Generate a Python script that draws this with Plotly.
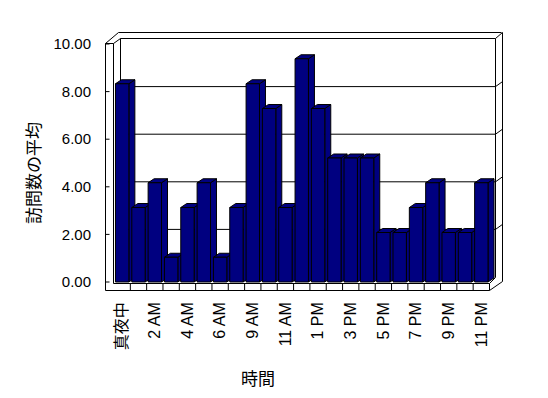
import plotly.graph_objects as go

# ---------------- data ----------------
categories = ["真夜中", "1 AM", "2 AM", "3 AM", "4 AM", "5 AM", "6 AM", "8 AM",
              "9 AM", "10 AM", "11 AM", "12 PM", "1 PM", "2 PM", "3 PM", "4 PM",
              "5 PM", "6 PM", "7 PM", "8 PM", "9 PM", "10 PM", "11 PM"]
values = [8.33, 3.13, 4.17, 1.04, 3.13, 4.17, 1.04, 3.13, 8.33, 7.29, 3.13, 9.38,
          7.29, 5.21, 5.21, 5.21, 2.08, 2.08, 3.13, 4.17, 2.08, 2.08, 4.17]
y_ticks = [0, 2, 4, 6, 8, 10]
y_title = "訪問数の平均"
x_title = "時間"

# ---------------- geometry (screen pixels) ----------------
W, H = 548, 398
OFF = 8                                   # page body margin
PL, PR, PT, PB = 100, 508, 28, 298        # plot area on screen
ML, MT = PL - OFF, PT - OFF
MR, MB = W - (PR - OFF), H - (PB - OFF)
N = len(categories)
FX0 = 114.0                  # left edge of first category (front)
FX1 = 489.5                  # right edge of last category
PXX = (FX1 - FX0) / N
FY0 = 282.0                  # value 0 (front)
PXY = 23.8                   # pixels per unit
BAR_W = 0.82
DDX, DDY = 6, 4              # depth offset of bars (px)
NAVY = "#000080"
FONT = "Liberation Sans, Arial, Noto Sans CJK JP, sans-serif"
CJK = "Noto Sans CJK JP, sans-serif"

def X(px):
    return -0.5 + (px - FX0) / PXX

def Y(py):
    return (FY0 - py) / PXY

def fy(v):
    return FY0 - PXY * v

x_range = [X(PL), X(PR)]
y_range = [Y(PB), Y(PT)]

shapes = []

def seg(p0, p1):
    shapes.append(dict(type="line", xref="x", yref="y",
                       x0=X(p0[0]), y0=Y(p0[1]), x1=X(p1[0]), y1=Y(p1[1]),
                       line=dict(color="black", width=1), layer="between"))

# back wall grid lines (offset into depth)
for v in y_ticks[1:-1]:
    yy = fy(v) - 5
    seg((120.5, yy), (495.5, yy))
    seg((495.5, yy), (502.5, yy - 5))

# frame: left wall
seg((105.5, 43.5), (105.5, 290.5))
seg((113.5, 43.5), (113.5, 283.5))
seg((105.5, 43.5), (113.5, 43.5))
seg((105.5, 43.5), (118.5, 32.5))
seg((113.5, 43.5), (120.5, 38.5))
# back wall
seg((118.5, 32.5), (501.5, 32.5))
seg((120.5, 38.5), (495.5, 38.5))
seg((120.5, 38.5), (120.5, 277.0))
seg((495.5, 38.5), (495.5, 277.5))
seg((495.5, 38.5), (502.5, 32.5))
seg((502.5, 32.5), (502.5, 281.5))
# floor
seg((105.5, 290.5), (489.5, 290.5))
seg((113.5, 283.5), (489.5, 283.5))
seg((489.5, 283.5), (489.5, 290.5))
seg((489.5, 290.5), (502.5, 281.5))
seg((489.5, 283.5), (495.5, 277.5))
for k in range(1, N):
    xx = FX0 + PXX * k
    seg((xx, 283.5), (xx, 290.5))
# left axis tick marks
for v in y_ticks:
    seg((105.5, fy(v)), (109.5, fy(v)))

# bar side and top faces (front faces are the bar trace)
dx = DDX / PXX
dy = DDY / PXY
for i, v in enumerate(values):
    xl = i - BAR_W / 2
    xr = i + BAR_W / 2
    shapes.append(dict(type="path", xref="x", yref="y", layer="between",
                       path=f"M {xr},0 L {xr+dx},{dy} L {xr+dx},{v+dy} L {xr},{v} Z",
                       fillcolor=NAVY, line=dict(color="black", width=1)))
    shapes.append(dict(type="path", xref="x", yref="y", layer="between",
                       path=f"M {xl},{v} L {xl+dx},{v+dy} L {xr+dx},{v+dy} L {xr},{v} Z",
                       fillcolor=NAVY, line=dict(color="black", width=1)))

fig = go.Figure()
fig.add_trace(go.Bar(
    x=list(range(N)), y=values, width=BAR_W,
    marker=dict(color=NAVY, line=dict(color="black", width=1)),
    hovertext=categories, hoverinfo="text+y",
))

def paper_x(px):
    return (px - PL) / (PR - PL)

def paper_y(py):
    return (PB - py) / (PB - PT)

fig.update_layout(
    width=W, height=H,
    margin=dict(l=ML, r=MR, t=MT, b=MB, pad=0),
    paper_bgcolor="white", plot_bgcolor="white",
    showlegend=False,
    shapes=shapes,
    font=dict(family=FONT, color="black", size=15),
    xaxis=dict(range=x_range, showgrid=False, zeroline=False, showline=False,
               tickmode="array", tickvals=list(range(0, N, 2)),
               ticktext=categories[0::2], tickangle=-90, ticks="",
               tickfont=dict(family=FONT, size=16), fixedrange=True),
    yaxis=dict(range=y_range, showgrid=False, zeroline=False, showline=False,
               tickmode="array", tickvals=y_ticks, tickformat=".2f", ticks="",
               tickfont=dict(family=FONT, size=15), ticklabelstandoff=8,
               fixedrange=True),
    annotations=[
        dict(text=y_title, xref="paper", yref="paper", x=paper_x(33), y=paper_y(173),
             showarrow=False, textangle=-90, font=dict(family=CJK, size=17),
             xanchor="center", yanchor="middle"),
        dict(text=x_title, xref="paper", yref="paper", x=paper_x(258), y=paper_y(377),
             showarrow=False, font=dict(family=CJK, size=17),
             xanchor="center", yanchor="middle"),
    ],
)

fig.write_html("out.html")
